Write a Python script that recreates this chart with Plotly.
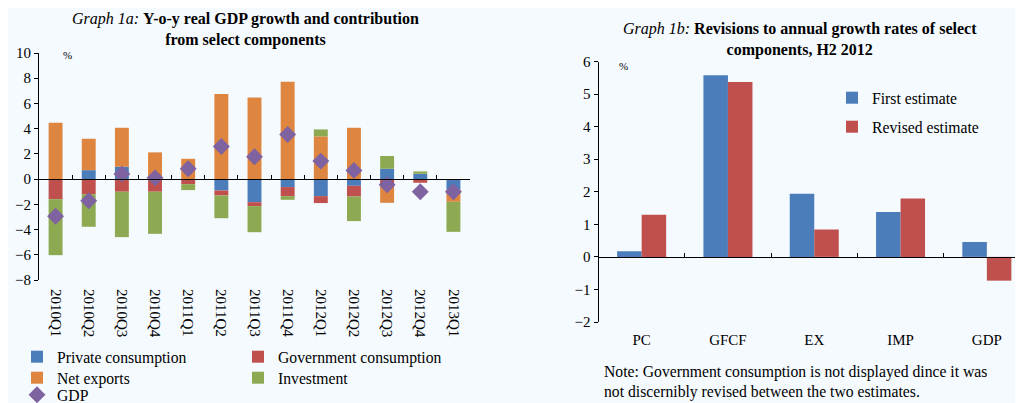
import plotly.graph_objects as go

# ---------------- data: Graph 1a ----------------
quarters = ["2010Q1", "2010Q2", "2010Q3", "2010Q4", "2011Q1", "2011Q2", "2011Q3",
            "2011Q4", "2012Q1", "2012Q2", "2012Q3", "2012Q4", "2013Q1"]
private_cons = [0.0, 0.71, 0.98, 0.0, 0.0, -0.90, -1.83, -0.63, -1.35, -0.53, 0.82, 0.42, -0.82]
gov_cons = [-1.59, -1.19, -1.00, -1.00, -0.40, -0.40, -0.31, -0.72, -0.55, -0.85, -0.61, -0.29, -0.26]
net_exports = [4.47, 2.49, 3.09, 2.12, 1.61, 6.75, 6.48, 7.72, 3.39, 4.07, -1.27, 0.0, -0.72]
investment = [-4.44, -2.59, -3.60, -3.34, -0.47, -1.80, -2.07, -0.29, 0.55, -1.95, 1.01, 0.19, -2.38]
gdp = [-2.94, -1.72, 0.40, 0.10, 0.82, 2.59, 1.77, 3.54, 1.43, 0.69, -0.45, -1.00, -1.00]

# ---------------- data: Graph 1b ----------------
components = ["PC", "GFCF", "EX", "IMP", "GDP"]
first_estimate = [0.17, 5.58, 1.94, 1.38, 0.46]
revised_estimate = [1.29, 5.37, 0.84, 1.79, -0.73]

left_range = [-8, 10]
right_range = [-2, 6]

BLUE = "#4A7DBA"
RED = "#C0504D"
ORANGE = "#DE8540"
GREEN = "#8DAA52"
PURPLE = "#7F62A0"
BG = "#F5FAFE"
FONT = "Liberation Serif"

# page body has an 8px margin: figure is sized to fill the rest of the window
OFF = 8
W, H = 1023 - OFF, 403 - OFF


def px(sx):
    return (sx - OFF) / W


def py(sy):
    return 1 - (sy - OFF) / H


# domains (paper fractions, from window pixel positions)
lx = [px(39), px(470)]
ly = [py(280), py(53)]
rx = [px(598.5), 1.0]
ry = [py(322), py(61.5)]
r_cat_w = 86.3
r_xmax = -0.5 + (1023 - 598.5) / r_cat_w
RBW = 0.284  # right-chart bar width (category fraction)


def zero_pos(dom, rng):
    return dom[0] + (0 - rng[0]) / (rng[1] - rng[0]) * (dom[1] - dom[0])


fig = go.Figure()

bar_common = dict(xaxis="x", yaxis="y", width=0.42)
fig.add_trace(go.Bar(x=quarters, y=private_cons, name="Private consumption",
                     marker=dict(color=BLUE, line=dict(width=0)), legend="legend", **bar_common))
fig.add_trace(go.Bar(x=quarters, y=gov_cons, name="Government consumption",
                     marker=dict(color=RED, line=dict(width=0)), legend="legend", **bar_common))
fig.add_trace(go.Bar(x=quarters, y=net_exports, name="Net exports",
                     marker=dict(color=ORANGE, line=dict(width=0)), legend="legend2", **bar_common))
fig.add_trace(go.Bar(x=quarters, y=investment, name="Investment",
                     marker=dict(color=GREEN, line=dict(width=0)), legend="legend2", **bar_common))
fig.add_trace(go.Scatter(x=quarters, y=gdp, name="GDP", mode="markers", xaxis="x3", yaxis="y",
                         marker=dict(symbol="diamond", size=13, color=PURPLE), legend="legend3"))

fig.add_trace(go.Bar(x=components, y=first_estimate, name="First estimate", xaxis="x2", yaxis="y2",
                     width=RBW, offset=-RBW,
                     marker=dict(color=BLUE, line=dict(width=0)), legend="legend4"))
fig.add_trace(go.Bar(x=components, y=revised_estimate, name="Revised estimate", xaxis="x4", yaxis="y2",
                     width=RBW, offset=0,
                     marker=dict(color=RED, line=dict(width=0)), legend="legend5"))

tickfont = dict(family=FONT, size=15, color="black")
legfont = dict(family=FONT, size=15.7, color="black")
zero_axis = dict(anchor="free", type="category", showline=True, linecolor="black", linewidth=1,
                 showgrid=False, zeroline=False, ticks="inside", ticklen=4, tickcolor="black",
                 tickson="boundaries", showticklabels=False)
leg_common = dict(xanchor="left", font=legfont, bgcolor="rgba(0,0,0,0)")

fig.update_layout(
    width=W, height=H,
    margin=dict(l=0, r=0, t=0, b=0, autoexpand=False),
    paper_bgcolor=BG, plot_bgcolor=BG,
    barmode="relative",
    font=dict(family=FONT, color="black"),
    showlegend=True,
    xaxis=dict(domain=lx, anchor="y", type="category", range=[-0.5, len(quarters) - 0.5],
               showline=False, showgrid=False, zeroline=False, ticks="",
               tickangle=90, tickfont=tickfont, ticklabelstandoff=8),
    yaxis=dict(domain=ly, anchor="x", range=left_range, dtick=2, showgrid=False, zeroline=False,
               showline=True, linecolor="black", linewidth=1, ticks="outside", ticklen=4,
               tickcolor="black", tickfont=tickfont),
    xaxis3=dict(overlaying="x", position=zero_pos(ly, left_range),
                range=[-0.5, len(quarters) - 0.5], **zero_axis),
    xaxis2=dict(domain=rx, anchor="y2", type="category", range=[-0.5, r_xmax],
                showline=False, showgrid=False, zeroline=False, ticks="", tickfont=tickfont,
                ticklabelstandoff=7),
    yaxis2=dict(domain=ry, anchor="x2", range=right_range, dtick=1, showgrid=False, zeroline=False,
                showline=True, linecolor="black", linewidth=1, ticks="outside", ticklen=4,
                tickcolor="black", tickfont=tickfont),
    xaxis4=dict(overlaying="x2", position=zero_pos(ry, right_range),
                range=[-0.5, r_xmax], **zero_axis),
    legend=dict(orientation="h", x=px(17), y=py(340), yanchor="top",
                entrywidth=176, entrywidthmode="pixels", **leg_common),
    legend2=dict(orientation="h", x=px(17), y=py(361), yanchor="top",
                 entrywidth=176, entrywidthmode="pixels", **leg_common),
    legend3=dict(orientation="h", x=px(17), y=py(378), yanchor="top", **leg_common),
    legend4=dict(x=px(832), y=py(81), yanchor="top", **leg_common),
    legend5=dict(x=px(832), y=py(110), yanchor="top", **leg_common),
    annotations=[
        dict(text="<i>Graph 1a:</i> <b>Y-o-y real GDP growth and contribution</b><br><b>from select components</b>",
             x=px(245), y=py(8), xref="paper", yref="paper", xanchor="center", yanchor="top",
             showarrow=False, font=dict(family=FONT, size=16), align="center"),
        dict(text="<i>Graph 1b:</i> <b>Revisions to annual growth rates of select</b><br><b>components, H2 2012</b>",
             x=px(800), y=py(18), xref="paper", yref="paper", xanchor="center", yanchor="top",
             showarrow=False, font=dict(family=FONT, size=16), align="center"),
        dict(text="%", x=px(61), y=py(47), xref="paper", yref="paper", xanchor="left", yanchor="top",
             showarrow=False, font=dict(family=FONT, size=11)),
        dict(text="%", x=px(617), y=py(58), xref="paper", yref="paper", xanchor="left", yanchor="top",
             showarrow=False, font=dict(family=FONT, size=11)),
        dict(text="Note: Government consumption is not displayed dince it was<br>not discernibly revised between the two estimates.",
             x=px(602), y=py(361), xref="paper", yref="paper", xanchor="left", yanchor="top",
             showarrow=False, font=dict(family=FONT, size=15.7), align="left"),
    ],
)

fig.write_html("out.html")
